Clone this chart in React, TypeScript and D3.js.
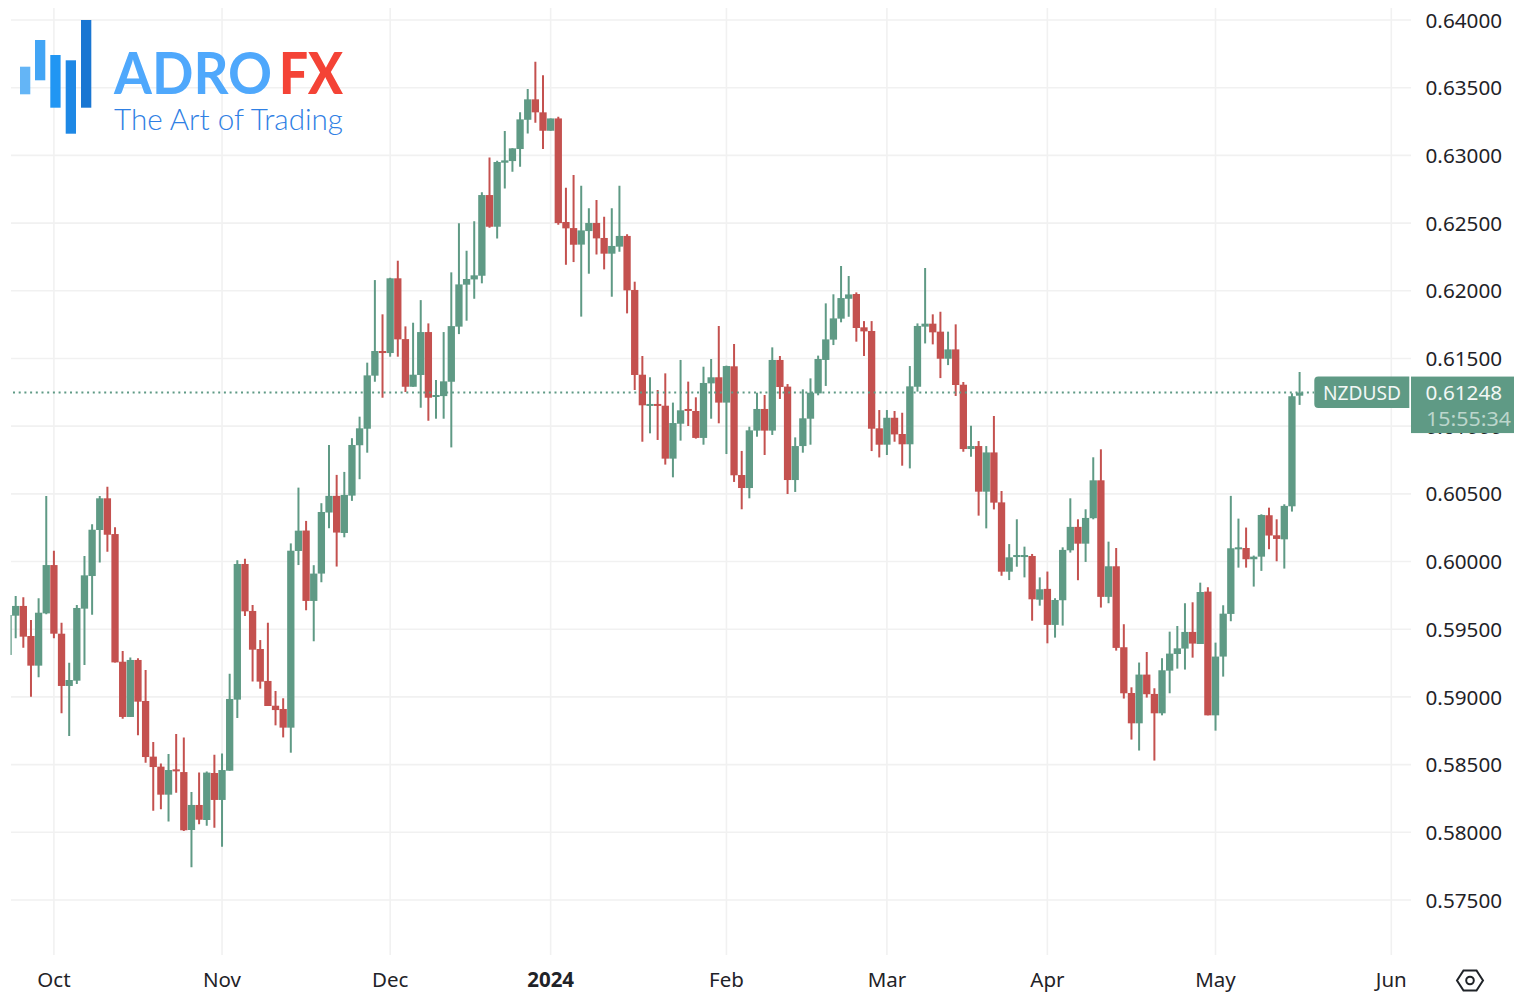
import React, { useRef, useEffect } from 'react';
import * as d3 from 'd3';

// NZDUSD daily candles, prices in 1e-5 units
const firstBar = -6; // bar index relative to the Oct tick
const opens = [
  59310, 59600, 59672, 59450, 59231, 59617, 59974, 59467, 59081, 59120,
  59652, 59893, 60233, 60467, 60203, 59260, 58852, 59273, 58970, 58559,
  58485, 58278, 58465, 58445, 58017, 58202, 58091, 58438, 58239, 58455,
  58980, 59982, 59635, 59354, 59118, 58935, 58911, 58773, 60078, 60229,
  59709, 59911, 60362, 60485, 60211, 60487, 60859, 60981, 61373, 61555,
  61540, 62092, 61643, 61291, 61378, 61695, 61222, 61222, 61328, 61735,
  62045, 62084, 62111, 62707, 62473, 62946, 62958, 63047, 63263, 63414,
  63318, 63182, 63273, 62508, 62463, 62341, 62441, 62501, 62390, 62274,
  62326, 62405, 62006, 61380, 61154, 61164, 61151, 60760, 61018, 61127,
  61112, 60913, 61316, 61361, 61174, 61442, 60639, 60543, 60967, 61127,
  60967, 61489, 61292, 60602, 60853, 61055, 61242, 61489, 61639, 61794,
  61941, 61976, 61730, 61703, 60984, 60863, 61062, 60942, 60866, 61291,
  61735, 61757, 61698, 61498, 61567, 61306, 60831, 60853, 60516, 60806,
  60437, 59925, 60036, 60036, 60041, 59718, 59798, 59532, 59714, 60083,
  60256, 60132, 60320, 60600, 59739, 59965, 59367, 59029, 58805, 59165,
  59022, 58879, 59194, 59317, 59357, 59480, 59391, 59778, 58864, 59298,
  59613, 60096, 60100, 60017, 60036, 60342, 60194, 60164, 60408, 61225,
];
const closes = [
  59605, 59672, 59445, 59231, 59622, 59974, 59467, 59081, 59125, 59657,
  59898, 60235, 60467, 60198, 59255, 58852, 59273, 58965, 58556, 58482,
  58278, 58460, 58455, 58015, 58202, 58093, 58441, 58239, 58460, 58985,
  59982, 59632, 59349, 59113, 58933, 58903, 58773, 60080, 60228, 59709,
  59911, 60366, 60485, 60214, 60492, 60861, 60984, 61375, 61555, 61540,
  62092, 61641, 61291, 61380, 61695, 61210, 61230, 61331, 61739, 62047,
  62087, 62114, 62707, 62473, 62951, 62963, 63052, 63266, 63414, 63318,
  63182, 63273, 62500, 62461, 62340, 62446, 62501, 62387, 62274, 62331,
  62405, 62003, 61378, 61154, 61164, 61154, 60760, 61023, 61117, 61114,
  60913, 61319, 61361, 61174, 61444, 60637, 60543, 60969, 61127, 60967,
  61489, 61289, 60602, 60853, 61058, 61247, 61496, 61641, 61796, 61946,
  61973, 61725, 61700, 60981, 60863, 61062, 60939, 60866, 61294, 61740,
  61757, 61693, 61498, 61567, 61304, 60831, 60853, 60516, 60806, 60435,
  59925, 60031, 60048, 60048, 59721, 59795, 59532, 59716, 60086, 60256,
  60132, 60322, 60600, 59739, 59965, 59362, 59027, 58805, 59165, 59020,
  58879, 59197, 59320, 59359, 59480, 59394, 59775, 58864, 59298, 59615,
  60098, 60105, 60017, 60036, 60344, 60192, 60167, 60411, 61221, 61248,
];
const highs = [
  59605, 59745, 59736, 59568, 59728, 60484, 60080, 59548, 59253, 59679,
  60041, 60275, 60484, 60553, 60253, 59339, 59292, 59285, 59199, 58667,
  58509, 58578, 58726, 58701, 58298, 58441, 58450, 58573, 58583, 59172,
  60009, 60021, 59679, 59420, 59548, 59044, 58990, 60134, 60546, 60300,
  59973, 60431, 60861, 60640, 60662, 60911, 61070, 61469, 62079, 61826,
  62096, 62222, 61737, 61764, 61931, 61759, 61341, 61695, 62136, 62498,
  62296, 62513, 62727, 62985, 62961, 63180, 63052, 63318, 63490, 63692,
  63591, 63273, 63286, 62761, 62855, 62776, 62609, 62670, 62547, 62609,
  62776, 62417, 62067, 61518, 61361, 61267, 61390, 61174, 61489, 61329,
  61213, 61439, 61496, 61740, 61447, 61607, 60817, 60996, 61247, 61230,
  61582, 61518, 61311, 60917, 61272, 61353, 61521, 61907, 61974, 62183,
  62109, 61988, 61776, 61776, 61119, 61119, 61112, 61099, 61444, 61759,
  62168, 61826, 61845, 61698, 61752, 61326, 61003, 60890, 60853, 61075,
  60521, 60129, 60312, 60110, 60056, 59883, 59926, 59729, 60105, 60467,
  60312, 60386, 60770, 60829, 60147, 60100, 59537, 59071, 59254, 59332,
  59064, 59286, 59482, 59524, 59692, 59699, 59844, 59810, 59401, 59677,
  60485, 60317, 60251, 60044, 60349, 60398, 60312, 60423, 61243, 61400,
];
const lows = [
  59310, 59433, 59364, 59002, 59145, 59610, 59433, 58879, 58711, 59095,
  59236, 59607, 59992, 60073, 59255, 58839, 58852, 58716, 58514, 58160,
  58170, 58079, 58293, 58010, 57741, 58059, 58049, 58034, 57894, 58455,
  58844, 59598, 59113, 59061, 58933, 58790, 58701, 58588, 59974, 59640,
  59411, 59847, 60246, 59963, 60179, 60448, 60608, 60804, 61328, 61210,
  61513, 61513, 61252, 61291, 61136, 61040, 61055, 61055, 60843, 61680,
  61779, 61941, 62055, 62466, 62387, 62756, 62879, 62916, 63162, 63241,
  63047, 63182, 62488, 62192, 62212, 61809, 62126, 62267, 62158, 61956,
  62289, 61833, 61267, 60885, 60947, 60898, 60716, 60622, 60893, 61001,
  60908, 60863, 61055, 61021, 60794, 60588, 60386, 60467, 60922, 60787,
  60935, 61201, 60499, 60514, 60804, 60863, 61228, 61297, 61599, 61767,
  61808, 61624, 61518, 60816, 60769, 60787, 60885, 60708, 60688, 61255,
  61611, 61604, 61355, 61451, 61223, 60811, 60774, 60339, 60245, 60385,
  59895, 59863, 59962, 59883, 59563, 59674, 59396, 59438, 59527, 60066,
  59862, 59997, 60312, 59660, 59692, 59342, 58988, 58685, 58604, 58995,
  58530, 58864, 59027, 59209, 59202, 59290, 59391, 58864, 58751, 59150,
  59559, 59955, 59955, 59815, 59931, 60091, 60002, 59948, 60369, 61157,
];

const monthTicks = [0, 22, 44, 65, 88, 109, 130, 152, 175];
const monthLabels = ['Oct', 'Nov', 'Dec', '2024', 'Feb', 'Mar', 'Apr', 'May', 'Jun'];
const priceTicks = [0.575, 0.58, 0.585, 0.59, 0.595, 0.6, 0.605, 0.61, 0.615, 0.62, 0.625, 0.63, 0.635, 0.64];
const lastPrice = 0.61248;
const symbol = 'NZDUSD';
const countdown = '15:55:34';

const UP = '#5f9a85';
const DOWN = '#c4514f';
const GRID = '#f1f1f1';
const FONT = '"Noto Sans", sans-serif';

const App = () => {
  const svgRef = useRef<SVGSVGElement>(null);

  useEffect(() => {
    if (!svgRef.current) return;
    const svg = d3.select(svgRef.current);
    svg.selectAll('*').remove();

    const x = d3.scaleLinear().domain([0, 175]).range([53.9, 1391.3]);
    const y = d3.scaleLinear().domain([0.575, 0.64]).range([900, 20]);
    const bars = opens.map((o, i) => ({
      i: firstBar + i,
      open: o / 1e5,
      close: closes[i] / 1e5,
      high: highs[i] / 1e5,
      low: lows[i] / 1e5,
    }));

    svg.append('defs').append('clipPath').attr('id', 'pane')
      .append('rect').attr('x', 10.5).attr('y', 8).attr('width', 1400.5).attr('height', 947);

    // Grid
    const grid = svg.append('g');
    grid.selectAll('.h').data(priceTicks).enter().append('line')
      .attr('x1', 11).attr('x2', 1411)
      .attr('y1', d => y(d)).attr('y2', d => y(d))
      .attr('stroke', GRID).attr('stroke-width', 1.6);
    grid.selectAll('.v').data(monthTicks).enter().append('line')
      .attr('x1', d => x(d)).attr('x2', d => x(d))
      .attr('y1', 8).attr('y2', 955)
      .attr('stroke', GRID).attr('stroke-width', 1.6);

    // Logo
    const logoBars = [
      { x: 20, y: 66.7, h: 27.6, c: '#64b5f6' },
      { x: 35, y: 40, h: 40.3, c: '#42a5f5' },
      { x: 50.3, y: 55, h: 52.7, c: '#2196f3' },
      { x: 65.7, y: 60.3, h: 73.4, c: '#1e88e5' },
      { x: 81, y: 20, h: 87.7, c: '#1976d2' },
    ];
    const logo = svg.append('g');
    logo.selectAll('rect').data(logoBars).enter().append('rect')
      .attr('x', d => d.x).attr('y', d => d.y)
      .attr('width', 10.3).attr('height', d => d.h)
      .attr('fill', d => d.c);
    logo.append('text').attr('x', 114).attr('y', 94)
      .attr('font-family', 'Lato, sans-serif').attr('font-weight', 700).attr('font-size', 58)
      .attr('textLength', 158).attr('lengthAdjust', 'spacingAndGlyphs')
      .attr('fill', '#4fa8fc').text('ADRO');
    logo.append('text').attr('x', 279).attr('y', 94)
      .attr('font-family', 'Lato, sans-serif').attr('font-weight', 900).attr('font-size', 58)
      .attr('textLength', 64).attr('lengthAdjust', 'spacingAndGlyphs')
      .attr('fill', '#f44336').text('FX');
    logo.append('text').attr('x', 114).attr('y', 130)
      .attr('font-family', 'Lato, sans-serif').attr('font-weight', 300).attr('font-size', 29)
      .attr('textLength', 229).attr('lengthAdjust', 'spacingAndGlyphs')
      .attr('fill', '#2f80e4').text('The Art of Trading');

    // Candles
    const candles = svg.append('g').attr('clip-path', 'url(#pane)');
    const colour = d => (d.close >= d.open ? UP : DOWN);
    candles.selectAll('.wick').data(bars).enter().append('line')
      .attr('x1', d => x(d.i)).attr('x2', d => x(d.i))
      .attr('y1', d => y(d.high)).attr('y2', d => y(d.low))
      .attr('stroke', colour).attr('stroke-width', 2);
    candles.selectAll('.body').data(bars).enter().append('rect')
      .attr('x', d => x(d.i) - 3.65).attr('width', 7.3)
      .attr('y', d => y(Math.max(d.open, d.close)))
      .attr('height', d => Math.max(2, Math.abs(y(d.open) - y(d.close))))
      .attr('fill', colour);

    // Last price line
    svg.append('line')
      .attr('x1', 13).attr('x2', 1314)
      .attr('y1', y(lastPrice)).attr('y2', y(lastPrice))
      .attr('stroke', UP).attr('stroke-width', 2).attr('stroke-dasharray', '2 3.7');

    // Price axis
    const yAxis = d3.axisRight(y).tickValues(priceTicks).tickSize(0).tickPadding(0).tickFormat(d3.format('.5f'));
    const yG = svg.append('g').attr('transform', 'translate(1425.5,0.5)').call(yAxis);
    yG.select('.domain').remove();
    yG.selectAll('text')
      .attr('font-family', FONT).attr('font-size', 20.7).attr('fill', '#1f2328');

    // Time axis
    const xAxis = d3.axisBottom(x).tickValues(monthTicks).tickSize(0).tickPadding(0)
      .tickFormat((d, i) => monthLabels[i]);
    const xG = svg.append('g').attr('transform', 'translate(-0.5,972)').call(xAxis);
    xG.select('.domain').remove();
    xG.selectAll('text')
      .attr('font-family', FONT).attr('font-size', 20.5).attr('fill', '#1f2328')
      .attr('font-weight', (d, i) => (monthLabels[i] === '2024' ? 700 : 400));

    // Symbol and price badges
    const py = y(lastPrice);
    svg.append('path')
      .attr('d', `M1409.3 ${py - 16}H1318.3a4 4 0 0 0 -4 4V${py + 11.5}a4 4 0 0 0 4 4H1409.3Z`)
      .attr('fill', UP);
    svg.append('text').attr('x', 1323).attr('y', py).attr('dy', '0.35em')
      .attr('font-family', FONT).attr('font-size', 20.5)
      .attr('textLength', 78).attr('lengthAdjust', 'spacingAndGlyphs')
      .attr('fill', '#f2f7f5').text(symbol);
    svg.append('rect').attr('x', 1411).attr('y', py - 16).attr('width', 103).attr('height', 56.5)
      .attr('fill', UP);
    svg.append('text').attr('x', 1425.5).attr('y', py).attr('dy', '0.35em')
      .attr('font-family', FONT).attr('font-size', 20.7)
      .attr('fill', '#f2f7f5').text(d3.format('.5f')(lastPrice));
    svg.append('text').attr('x', 1426).attr('y', py + 26).attr('dy', '0.35em')
      .attr('font-family', FONT).attr('font-size', 20.7)
      .attr('textLength', 85).attr('lengthAdjust', 'spacingAndGlyphs')
      .attr('fill', '#bcd6cc').text(countdown);

    // Settings icon
    const hex = d3.line()(d3.range(6).map(k => {
      const a = (Math.PI / 3) * k;
      return [1470 + 13 * Math.cos(a), 980.5 + 11.5 * Math.sin(a)];
    })) + 'Z';
    svg.append('path').attr('d', hex).attr('fill', 'none').attr('stroke', '#1f2328').attr('stroke-width', 2);
    svg.append('circle').attr('cx', 1470).attr('cy', 980.5).attr('r', 3.8)
      .attr('fill', 'none').attr('stroke', '#1f2328').attr('stroke-width', 2);
  }, []);

  return (
    <svg
      ref={svgRef}
      width={1516}
      height={1006}
      style={{ position: 'absolute', left: 0, top: 0, display: 'block', background: '#fff' }}
    />
  );
};

export default App;
